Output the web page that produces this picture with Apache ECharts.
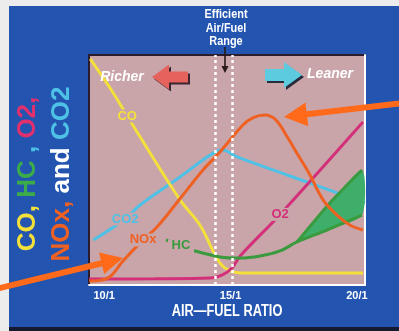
<!DOCTYPE html>
<html>
<head>
<meta charset="utf-8">
<script src="https://cdn.jsdelivr.net/npm/echarts@6/dist/echarts.min.js"></script>
<style>
  html, body { margin: 0; padding: 0; background: #ececec; }
  #chart { width: 399px; height: 331px; }
</style>
</head>
<body>
<div id="chart"></div>
<script>
// Air/fuel ratio axis
const ratioTicks = [10, 15, 20];
const tickLabels = ['10/1', '15/1', '20/1'];
const axisTitle = 'AIR\u2014FUEL RATIO';
const efficientRange = [14.4, 15.05];

// Emission curves: [air/fuel ratio, relative level]
const coData = [[9.45, 98.3], [10.36, 83.5], [10.91, 73.5], [13.0, 37.0], [13.79, 26.1], [14.58, 9.6], [15.1, 5.7], [15.57, 5.2], [20.24, 5.2]];
const co2Data = [[9.57, 19.6], [10.83, 28.7], [11.42, 34.8], [13.0, 47.0], [14.47, 58.3], [14.7, 58.7], [15.26, 55.7], [17.35, 47.4], [19.33, 39.6], [20.32, 35.7]];
const noxData = [[9.41, 1.7], [9.84, 2.0], [10.25, 3.8], [10.71, 10.0], [11.54, 19.6], [12.09, 25.2], [13.0, 37.5], [13.91, 50.0], [14.58, 57.8], [15.49, 69.6], [15.9, 72.8], [16.36, 73.9], [16.8, 71.7], [17.27, 63.9], [17.67, 56.5], [18.1, 48.7], [18.66, 37.0], [19.21, 30.4], [19.72, 26.1], [20.24, 23.9]];
const o2Data = [[9.41, 2.6], [12.0, 2.7], [14.19, 3.0], [14.66, 4.3], [15.06, 7.4], [15.38, 12.6], [16.96, 30.7], [20.24, 70.9]];
const hcLower = [[12.45, 19.6], [13.04, 17.0], [13.6, 14.8], [14.58, 12.2], [15.38, 11.7], [16.17, 12.6], [16.96, 14.8], [17.63, 18.7], [18.81, 23.9], [20.2, 30.4]];
const hcUpper = [[17.63, 18.7], [18.93, 35.7], [20.2, 50.0]];

// index of the point that carries each curve's name tag
const tagAt = { co: 2, co2: 1, nox: 4, o2: 6, hc: 1 };

const PINK = '#c9a4a9';
const BLUE = '#2254b0';
const C = {
  co: '#f4e03a', co2: '#4ec2e6', nox: '#ee6122', o2: '#d4307a',
  hc: '#3a9a3e', hcFill: '#3fae6a', arrow: '#ff6a1a'
};
const SANS = "'Liberation Sans', Arial, sans-serif";

function tag(text, color, at, w) {
  return {
    symbol: 'rect', symbolSize: [w, 13], silent: true, animation: false,
    itemStyle: { color: PINK },
    label: { show: true, position: 'inside', formatter: text, color: color,
             fontFamily: SANS, fontWeight: 'bold', fontSize: 13 },
    data: [{ coord: at }]
  };
}

function line(name, data, color, z, extra) {
  return Object.assign({
    name: name, type: 'line', data: data, smooth: 0.35, showSymbol: false,
    symbol: 'none', z: z, silent: true, animation: false,
    lineStyle: { color: color, width: 3 }
  }, extra || {});
}

function arrowPts(x0, y0, x1, y1, w, hl, hw) {
  const dx = x1 - x0, dy = y1 - y0, L = Math.hypot(dx, dy);
  const ux = dx / L, uy = dy / L, px = -uy, py = ux;
  const bx = x1 - ux * hl, by = y1 - uy * hl;
  return [
    [x0 + px * w / 2, y0 + py * w / 2], [bx + px * w / 2, by + py * w / 2],
    [bx + px * hw / 2, by + py * hw / 2], [x1, y1],
    [bx - px * hw / 2, by - py * hw / 2], [bx - px * w / 2, by - py * w / 2],
    [x0 - px * w / 2, y0 - py * w / 2]
  ];
}

function shifted(pts, d) { return pts.map(p => [p[0] + d, p[1] + d]); }

const chart = echarts.init(document.getElementById('chart'), null, { renderer: 'canvas' });

const redArrow = arrowPts(188, 77, 152, 77, 11, 17, 25);
const cyanArrow = arrowPts(265, 75, 302, 75, 12, 18, 26);

chart.setOption({
  backgroundColor: BLUE,
  animation: false,
  grid: {
    left: 89, top: 55, right: 34, bottom: 46,
    show: true, backgroundColor: PINK, borderColor: '#2a1c2c', borderWidth: 2
  },
  xAxis: {
    type: 'value', min: 9.4, max: 20.32,
    axisLine: { show: true, lineStyle: { color: '#ffffff', width: 2 } },
    axisTick: { show: false },
    splitLine: { show: false },
    axisLabel: {
      customValues: ratioTicks, margin: 5,
      formatter: v => tickLabels[ratioTicks.indexOf(v)] || '',
      color: '#ffffff', fontFamily: SANS, fontWeight: 'bold', fontSize: 11
    }
  },
  yAxis: [
    { type: 'value', min: 0, max: 100, axisLabel: { show: false }, axisTick: { show: false },
      splitLine: { show: false }, axisLine: { show: true, lineStyle: { color: '#2a1c2c', width: 2 } } },
    { type: 'value', min: 0, max: 100, position: 'right', axisLabel: { show: false },
      axisTick: { show: false }, splitLine: { show: false },
      axisLine: { show: true, lineStyle: { color: '#ffffff', width: 2 } } }
  ],
  series: [
    line('CO2', co2Data, C.co2, 2, { markPoint: tag('CO2', C.co2, co2Data[tagAt.co2], 30) }),
    {
      name: 'HC band', type: 'custom', z: 3, silent: true, animation: false,
      data: [[hcUpper[0][0], hcUpper[0][1]]],
      renderItem: function (params, api) {
        const lowerPart = hcLower.filter(p => p[0] >= hcUpper[0][0]);
        const pts = hcUpper.map(p => api.coord(p))
          .concat(lowerPart.slice().reverse().map(p => api.coord(p)));
        return { type: 'polygon', shape: { points: pts, smooth: 0.25 },
                 style: { fill: C.hcFill } };
      }
    },
    line('CO', coData, C.co, 4, { markPoint: tag('CO', C.co, coData[tagAt.co], 22) }),
    line('O2', o2Data, C.o2, 4, { markPoint: tag('O2', C.o2, o2Data[tagAt.o2], 22) }),
    line('HC', hcLower, C.hc, 4, { markPoint: tag('HC', C.hc, hcLower[tagAt.hc], 26) }),
    line('HC upper', hcUpper, C.hc, 4, { smooth: 0.2 }),
    line('NOx', noxData, C.nox, 4, {
      markPoint: tag('NOx', C.nox, noxData[tagAt.nox], 32),
      markLine: {
        silent: true, animation: false, z: 10, symbol: ['none', 'none'],
        label: { show: false },
        lineStyle: { color: '#ffffff', type: [3, 3], width: 2.5, opacity: 1 },
        data: efficientRange.map(v => ({ xAxis: v }))
      }
    })
  ],
  graphic: [
    // paper margin
    { type: 'rect', z: 0, shape: { x: 0, y: 0, width: 9, height: 331 }, style: { fill: '#ececec' } },
    { type: 'rect', z: 0, shape: { x: 0, y: 0, width: 399, height: 6 }, style: { fill: '#ececec' } },
    { type: 'rect', z: 0, shape: { x: 9, y: 327, width: 390, height: 4 }, style: { fill: '#141a30' } },
    // vertical title
    {
      type: 'text', x: 45, y: 174, rotation: Math.PI / 2, z: 20,
      style: {
        text: '{y|CO,} {g|HC} {c|,} {m|O2,}\n{o|NOx,} {w|and} {c|CO2}',
        textAlign: 'center', textVerticalAlign: 'middle',
        fontFamily: SANS, fontWeight: 'bold', fontSize: 26, lineHeight: 34, fill: '#ffffff',
        rich: {
          y: { fill: C.co, fontFamily: SANS, fontWeight: 'bold', fontSize: 26, lineHeight: 34 },
          g: { fill: '#3cab4a', fontFamily: SANS, fontWeight: 'bold', fontSize: 26, lineHeight: 34 },
          c: { fill: C.co2, fontFamily: SANS, fontWeight: 'bold', fontSize: 26, lineHeight: 34 },
          m: { fill: '#e0306e', fontFamily: SANS, fontWeight: 'bold', fontSize: 26, lineHeight: 34 },
          o: { fill: C.nox, fontFamily: SANS, fontWeight: 'bold', fontSize: 26, lineHeight: 34 },
          w: { fill: '#ffffff', fontFamily: SANS, fontWeight: 'bold', fontSize: 26, lineHeight: 34 }
        }
      }
    },
    // horizontal axis title (condensed lettering)
    {
      type: 'text', x: 227, y: 312, scaleX: 0.8, z: 20,
      style: { text: axisTitle, textAlign: 'center', textVerticalAlign: 'middle',
               fontFamily: SANS, fontWeight: 'bold', fontSize: 16, fill: '#ffffff' }
    },
    // efficient range note
    {
      type: 'text', x: 226, y: 28, scaleX: 0.84, z: 20,
      style: { text: 'Efficient\nAir/Fuel\nRange', textAlign: 'center', textVerticalAlign: 'middle',
               fontFamily: SANS, fontWeight: 'bold', fontSize: 13, lineHeight: 13.5, fill: '#ffffff' }
    },
    { type: 'polygon', z: 20, shape: { points: arrowPts(225, 47, 225, 73, 1.6, 7, 7) }, style: { fill: '#2a1a1a' } },
    // rich / lean direction markers
    { type: 'polygon', z: 20, shape: { points: shifted(redArrow, 2) }, style: { fill: '#3a2530' } },
    { type: 'polygon', z: 21, shape: { points: redArrow }, style: { fill: '#e6625c' } },
    { type: 'polygon', z: 20, shape: { points: shifted(cyanArrow, 2) }, style: { fill: '#2a2a3a' } },
    { type: 'polygon', z: 21, shape: { points: cyanArrow }, style: { fill: '#5ccbe0' } },
    {
      type: 'text', x: 122, y: 77, z: 21,
      style: { text: 'Richer', textAlign: 'center', textVerticalAlign: 'middle',
               fontFamily: SANS, fontWeight: 'bold', fontStyle: 'italic', fontSize: 14, fill: '#ffffff',
               textShadowColor: '#2a1c2c', textShadowOffsetX: 1.5, textShadowOffsetY: 1.5, textShadowBlur: 0 }
    },
    {
      type: 'text', x: 330, y: 74, z: 21,
      style: { text: 'Leaner', textAlign: 'center', textVerticalAlign: 'middle',
               fontFamily: SANS, fontWeight: 'bold', fontStyle: 'italic', fontSize: 14, fill: '#ffffff',
               textShadowColor: '#2a1c2c', textShadowOffsetX: 1.5, textShadowOffsetY: 1.5, textShadowBlur: 0 }
    },
    // callout arrows
    { type: 'polygon', z: 30, shape: { points: arrowPts(404, 103, 284, 117, 6, 23, 24) }, style: { fill: C.arrow } },
    { type: 'polygon', z: 30, shape: { points: arrowPts(-4, 289, 123, 258, 6, 22, 22) }, style: { fill: C.arrow } }
  ]
});
</script>
</body>
</html>
